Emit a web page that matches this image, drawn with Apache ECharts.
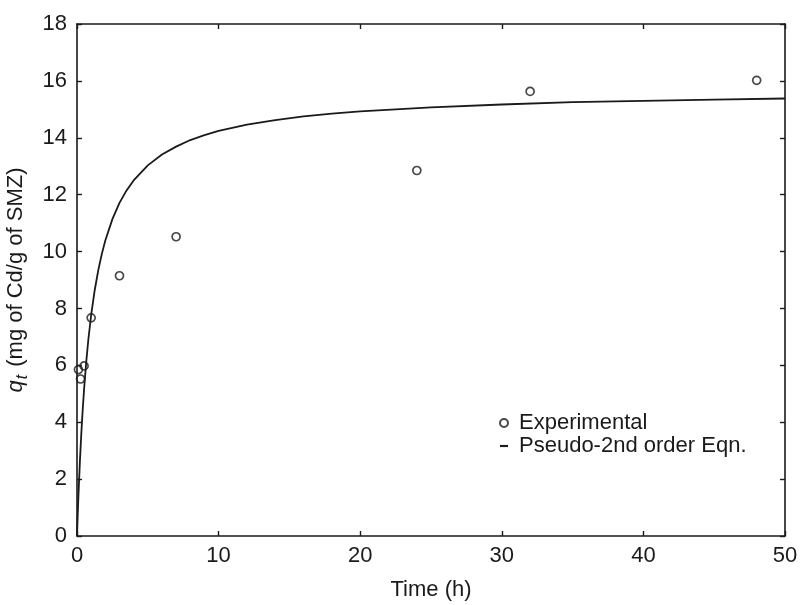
<!DOCTYPE html>
<html>
<head>
<meta charset="utf-8">
<script src="https://cdn.jsdelivr.net/npm/echarts@6/dist/echarts.min.js"></script>
<style>
  html, body { margin: 0; padding: 0; background: #fff; }
  #chart { width: 807px; height: 605px; }
</style>
</head>
<body>
<div id="chart"></div>
<script>
// Cd uptake on SMZ over time: measured values
const expTime = [0.1, 0.25, 0.5, 1, 3, 7, 24, 32, 48];
const expQ = [5.85, 5.52, 5.98, 7.67, 9.15, 10.52, 12.85, 15.63, 16.02];

// Fitted pseudo-second-order curve, sampled along the time axis
const fitTime = [0, 0.05, 0.1, 0.2, 0.3, 0.4, 0.5, 0.65, 0.8, 1, 1.25, 1.5, 1.75, 2, 2.5, 3, 3.5, 4,
                 5, 6, 7, 8, 9, 10, 12, 14, 16, 18, 20, 25, 30, 35, 40, 45, 50];
const fitQ = [0, 0.73, 1.40, 2.57, 3.56, 4.42, 5.16, 6.11, 6.90, 7.77, 8.64, 9.34, 9.91, 10.39, 11.14,
              11.71, 12.15, 12.50, 13.03, 13.41, 13.69, 13.92, 14.09, 14.24, 14.46, 14.62, 14.75,
              14.85, 14.93, 15.07, 15.17, 15.25, 15.30, 15.34, 15.38];

// Axis ranges
const xMin = 0, xMax = 50, xStep = 10;
const yMin = 0, yMax = 18, yStep = 2;

const FONT = '"Liberation Sans", Arial, Helvetica, sans-serif';
const INK = '#1a1a1a';
const FS = 22;

const pairs = (xs, ys) => xs.map((x, i) => [x, ys[i]]);

const chart = echarts.init(document.getElementById('chart'), null, { renderer: 'canvas' });

const axisLine = { show: true, onZero: false, lineStyle: { color: INK, width: 1.6 } };
const tick = { show: true, inside: true, length: 5, lineStyle: { color: INK, width: 1.4 } };

chart.setOption({
  animation: false,
  backgroundColor: '#fff',
  textStyle: { fontFamily: FONT, color: INK },
  grid: { left: 77, right: 22, top: 24, bottom: 69, containLabel: false, outerBoundsMode: 'none' },
  xAxis: [
    {
      type: 'value', position: 'bottom', min: xMin, max: xMax, interval: xStep,
      axisLine, axisTick: tick, splitLine: { show: false },
      axisLabel: { color: INK, fontSize: FS, fontFamily: FONT, margin: 9 },
      name: 'Time (h)', nameLocation: 'middle', nameGap: 43,
      nameTextStyle: { color: INK, fontSize: FS, fontFamily: FONT }
    },
    {
      type: 'value', position: 'top', min: xMin, max: xMax, interval: xStep,
      axisLine, axisTick: tick, axisLabel: { show: false }, splitLine: { show: false }
    }
  ],
  yAxis: [
    {
      type: 'value', position: 'left', min: yMin, max: yMax, interval: yStep,
      axisLine, axisTick: tick, splitLine: { show: false },
      axisLabel: { color: INK, fontSize: FS, fontFamily: FONT, margin: 10 },
      name: '{q|q}{t|t}{n| (mg of Cd/g of SMZ)}',
      nameLocation: 'middle', nameRotate: 90, nameGap: 46,
      nameTextStyle: {
        color: INK, fontFamily: FONT, fontSize: FS,
        rich: {
          q: { fontSize: FS, fontStyle: 'italic', fontFamily: FONT, color: INK, lineHeight: 30, verticalAlign: 'middle' },
          t: { fontSize: 16, fontStyle: 'italic', fontFamily: FONT, color: INK, lineHeight: 30, verticalAlign: 'bottom', padding: [0, 2, 0, 1] },
          n: { fontSize: FS, fontFamily: FONT, color: INK, lineHeight: 30, verticalAlign: 'middle' }
        }
      }
    },
    {
      type: 'value', position: 'right', min: yMin, max: yMax, interval: yStep,
      axisLine, axisTick: tick, axisLabel: { show: false }, splitLine: { show: false }
    }
  ],
  legend: {
    orient: 'vertical',
    left: 494, top: 407,
    itemWidth: 8, itemHeight: 8, itemGap: 1,
    textStyle: { fontSize: FS, fontFamily: FONT, color: INK, lineHeight: 22, padding: [0, 0, 0, 6] },
    data: [
      { name: 'Experimental', icon: 'circle' },
      { name: 'Pseudo-2nd order Eqn.', icon: 'path://M0,0H6V1.6H0Z' }
    ]
  },
  series: [
    {
      name: 'Pseudo-2nd order Eqn.',
      type: 'line',
      xAxisIndex: 0, yAxisIndex: 0,
      data: pairs(fitTime, fitQ),
      showSymbol: false,
      smooth: false,
      color: INK,
      lineStyle: { color: INK, width: 1.8 },
      itemStyle: { color: INK },
      z: 2
    },
    {
      name: 'Experimental',
      type: 'scatter',
      xAxisIndex: 0, yAxisIndex: 0,
      data: pairs(expTime, expQ),
      symbol: 'circle',
      symbolSize: 8,
      itemStyle: { color: 'rgba(255,255,255,0)', borderColor: INK, borderWidth: 1.7 },
      z: 3
    }
  ]
});
</script>
</body>
</html>
